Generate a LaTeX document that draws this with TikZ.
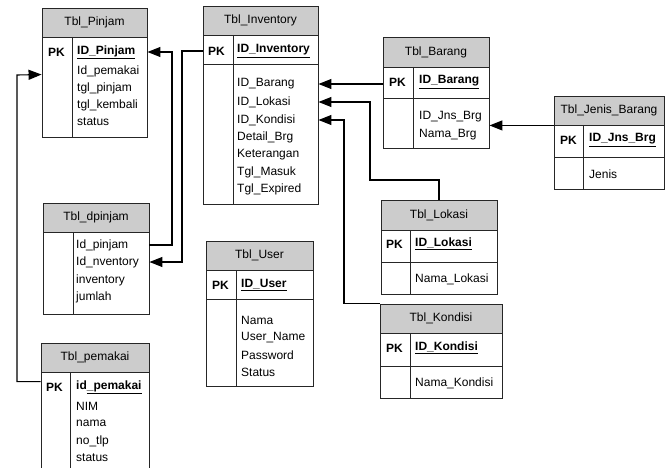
\documentclass[tikz,border=0pt]{standalone}
\usepackage{fontspec}
\setmainfont{Liberation Sans}
\usetikzlibrary{arrows.meta}

\begin{document}
\begin{tikzpicture}[x=1pt,y=-1pt,
    tbl/.style={draw=black!85,line width=0.9pt,inner sep=0pt},
    hdr/.style={tbl,fill=black!20,font=\fontsize{12}{12}\selectfont},
    fk/.style={line width=1.1pt,-{Triangle[length=13pt,width=10pt]}},
    fld/.style={anchor=west,inner sep=0pt,font=\fontsize{12}{12}\selectfont},
    pk/.style={fld,font=\fontsize{12}{12}\selectfont\bfseries}]
  \useasboundingbox (0,0) rectangle (666,468);
  \clip (0,0) rectangle (666,468);

  % Tbl_Pinjam
  \node[hdr,minimum width=105pt,minimum height=29pt] (pinjam-h) at (94.5,22.5) {Tbl\_Pinjam};
  \node[tbl,minimum width=105pt,minimum height=100pt] (pinjam) at (94.5,87) {};
  \draw[tbl] (72,37) -- (72,137);
  \node[pk] at (48,52) {PK};
  \node[pk] (pinjam-id) at (77,52) {\underline{ID\_Pinjam}};
  \node[fld] (pinjam-pemakai) at (77,71) {Id\_pemakai};
  \node[fld] at (77,88) {tgl\_pinjam};
  \node[fld] at (77,105) {tgl\_kembali};
  \node[fld] at (77,122) {status};

  % Tbl_Inventory
  \node[hdr,minimum width=115pt,minimum height=29pt] (inv-h) at (260.5,20.5) {Tbl\_Inventory};
  \node[tbl,minimum width=115pt,minimum height=169pt] (inv) at (260.5,119.5) {};
  \draw[tbl] (233,35) -- (233,204) (203,64) -- (318,64);
  \node[pk] at (208,51) {PK};
  \node[pk] (inv-id) at (237,51) {\underline{ID\_Inventory}};
  \node[fld] (inv-barang) at (237,84) {ID\_Barang};
  \node[fld] (inv-lokasi) at (237,102) {ID\_Lokasi};
  \node[fld] (inv-kondisi) at (237,120) {ID\_Kondisi};
  \node[fld] at (237,137) {Detail\_Brg};
  \node[fld] at (237,154.5) {Keterangan};
  \node[fld] at (237,172) {Tgl\_Masuk};
  \node[fld] at (237,189.5) {Tgl\_Expired};

  % Tbl_Barang
  \node[hdr,minimum width=106pt,minimum height=30pt] (barang-h) at (436,52) {Tbl\_Barang};
  \node[tbl,minimum width=106pt,minimum height=81pt] (barang) at (436,107.5) {};
  \draw[tbl] (413,67) -- (413,148) (383,98) -- (489,98);
  \node[pk] at (389,82) {PK};
  \node[pk] (barang-id) at (419,82) {\underline{ID\_Barang}};
  \node[fld] at (419,117) {ID\_Jns\_Brg};
  \node[fld] at (419,135) {Nama\_Brg};

  % Tbl_Jenis_Barang
  \node[hdr,minimum width=110pt,minimum height=29pt] (jenis-h) at (609,110.5) {Tbl\_Jenis\_Barang};
  \node[tbl,minimum width=110pt,minimum height=64pt] (jenis) at (609,157) {};
  \draw[tbl] (583,125) -- (583,189) (554,157) -- (664,157);
  \node[pk] at (560,140) {PK};
  \node[pk] (jenis-id) at (589,140) {\underline{ID\_Jns\_Brg}};
  \node[fld] at (589,174) {Jenis};

  % Tbl_Lokasi
  \node[hdr,minimum width=116pt,minimum height=30pt] (lokasi-h) at (439,215) {Tbl\_Lokasi};
  \node[tbl,minimum width=116pt,minimum height=64pt] (lokasi) at (439,262) {};
  \draw[tbl] (410,230) -- (410,294) (381,262) -- (497,262);
  \node[pk] at (386,244) {PK};
  \node[pk] (lokasi-id) at (415,244) {\underline{ID\_Lokasi}};
  \node[fld] at (415,279) {Nama\_Lokasi};

  % Tbl_Kondisi
  \node[hdr,minimum width=122pt,minimum height=29pt] (kondisi-h) at (441,318.5) {Tbl\_Kondisi};
  \node[tbl,minimum width=122pt,minimum height=65pt] (kondisi) at (441,365.5) {};
  \draw[tbl] (410,333) -- (410,398) (380,366) -- (502,366);
  \node[pk] at (386,348) {PK};
  \node[pk] (kondisi-id) at (415,348) {\underline{ID\_Kondisi}};
  \node[fld] at (415,383) {Nama\_Kondisi};

  % Tbl_dpinjam
  \node[hdr,minimum width=106pt,minimum height=29pt] (dpinjam-h) at (96,217.5) {Tbl\_dpinjam};
  \node[tbl,minimum width=106pt,minimum height=82pt] (dpinjam) at (96,273) {};
  \draw[tbl] (73,232) -- (73,314);
  \node[fld] (dp-pinjam) at (76,245) {Id\_pinjam};
  \node[fld] (dp-inv) at (76,262) {Id\_nventory};
  \node[fld] at (76,280) {inventory};
  \node[fld] at (76,297) {jumlah};

  % Tbl_pemakai
  \node[hdr,minimum width=108pt,minimum height=29pt] (pemakai-h) at (95,357.5) {Tbl\_pemakai};
  \node[tbl,minimum width=108pt,minimum height=118pt] (pemakai) at (95,431) {};
  \draw[tbl] (70,372) -- (70,490);
  \node[pk] at (46,387) {PK};
  \node[pk] (pm-id) at (76,387) {id\underline{\_pemakai}};
  \node[fld] at (76,406) {NIM};
  \node[fld] at (76,423) {nama};
  \node[fld] at (76,441) {no\_tlp};
  \node[fld] at (76,458) {status};

  % Tbl_User
  \node[hdr,minimum width=107pt,minimum height=29pt] (user-h) at (259.5,255.5) {Tbl\_User};
  \node[tbl,minimum width=107pt,minimum height=116pt] (user) at (259.5,328) {};
  \draw[tbl] (236,270) -- (236,386) (206,299) -- (313,299);
  \node[pk] at (212,285) {PK};
  \node[pk] (user-id) at (241,285) {\underline{ID\_User}};
  \node[fld] at (241,320) {Nama};
  \node[fld] at (241,337.5) {User\_Name};
  \node[fld] at (241,355) {Password};
  \node[fld] at (241,372) {Status};

  % relasi
  \draw[fk] (dpinjam.east |- dp-pinjam) -| (172,52) -- (pinjam.east |- pinjam-id);
  \draw[fk] (inv.west |- inv-id) -| (182,262) -- (dpinjam.east |- dp-inv);
  \draw[fk] ([yshift=-10pt]pemakai.north west) -| (17,75) -- ([yshift=-38pt]pinjam.north west);
  \draw[fk] (barang.west |- inv-barang) -- (inv.east |- inv-barang);
  \draw[fk] (lokasi-h.north) |- (370,180) |- (inv.east |- inv-lokasi);
  \draw[fk] (kondisi-h.north west) -| (344,120) -- (inv.east |- inv-kondisi);
  \draw[fk] (jenis-h.south west) -- (barang.east |- jenis-h.south west);
\end{tikzpicture}
\end{document}
